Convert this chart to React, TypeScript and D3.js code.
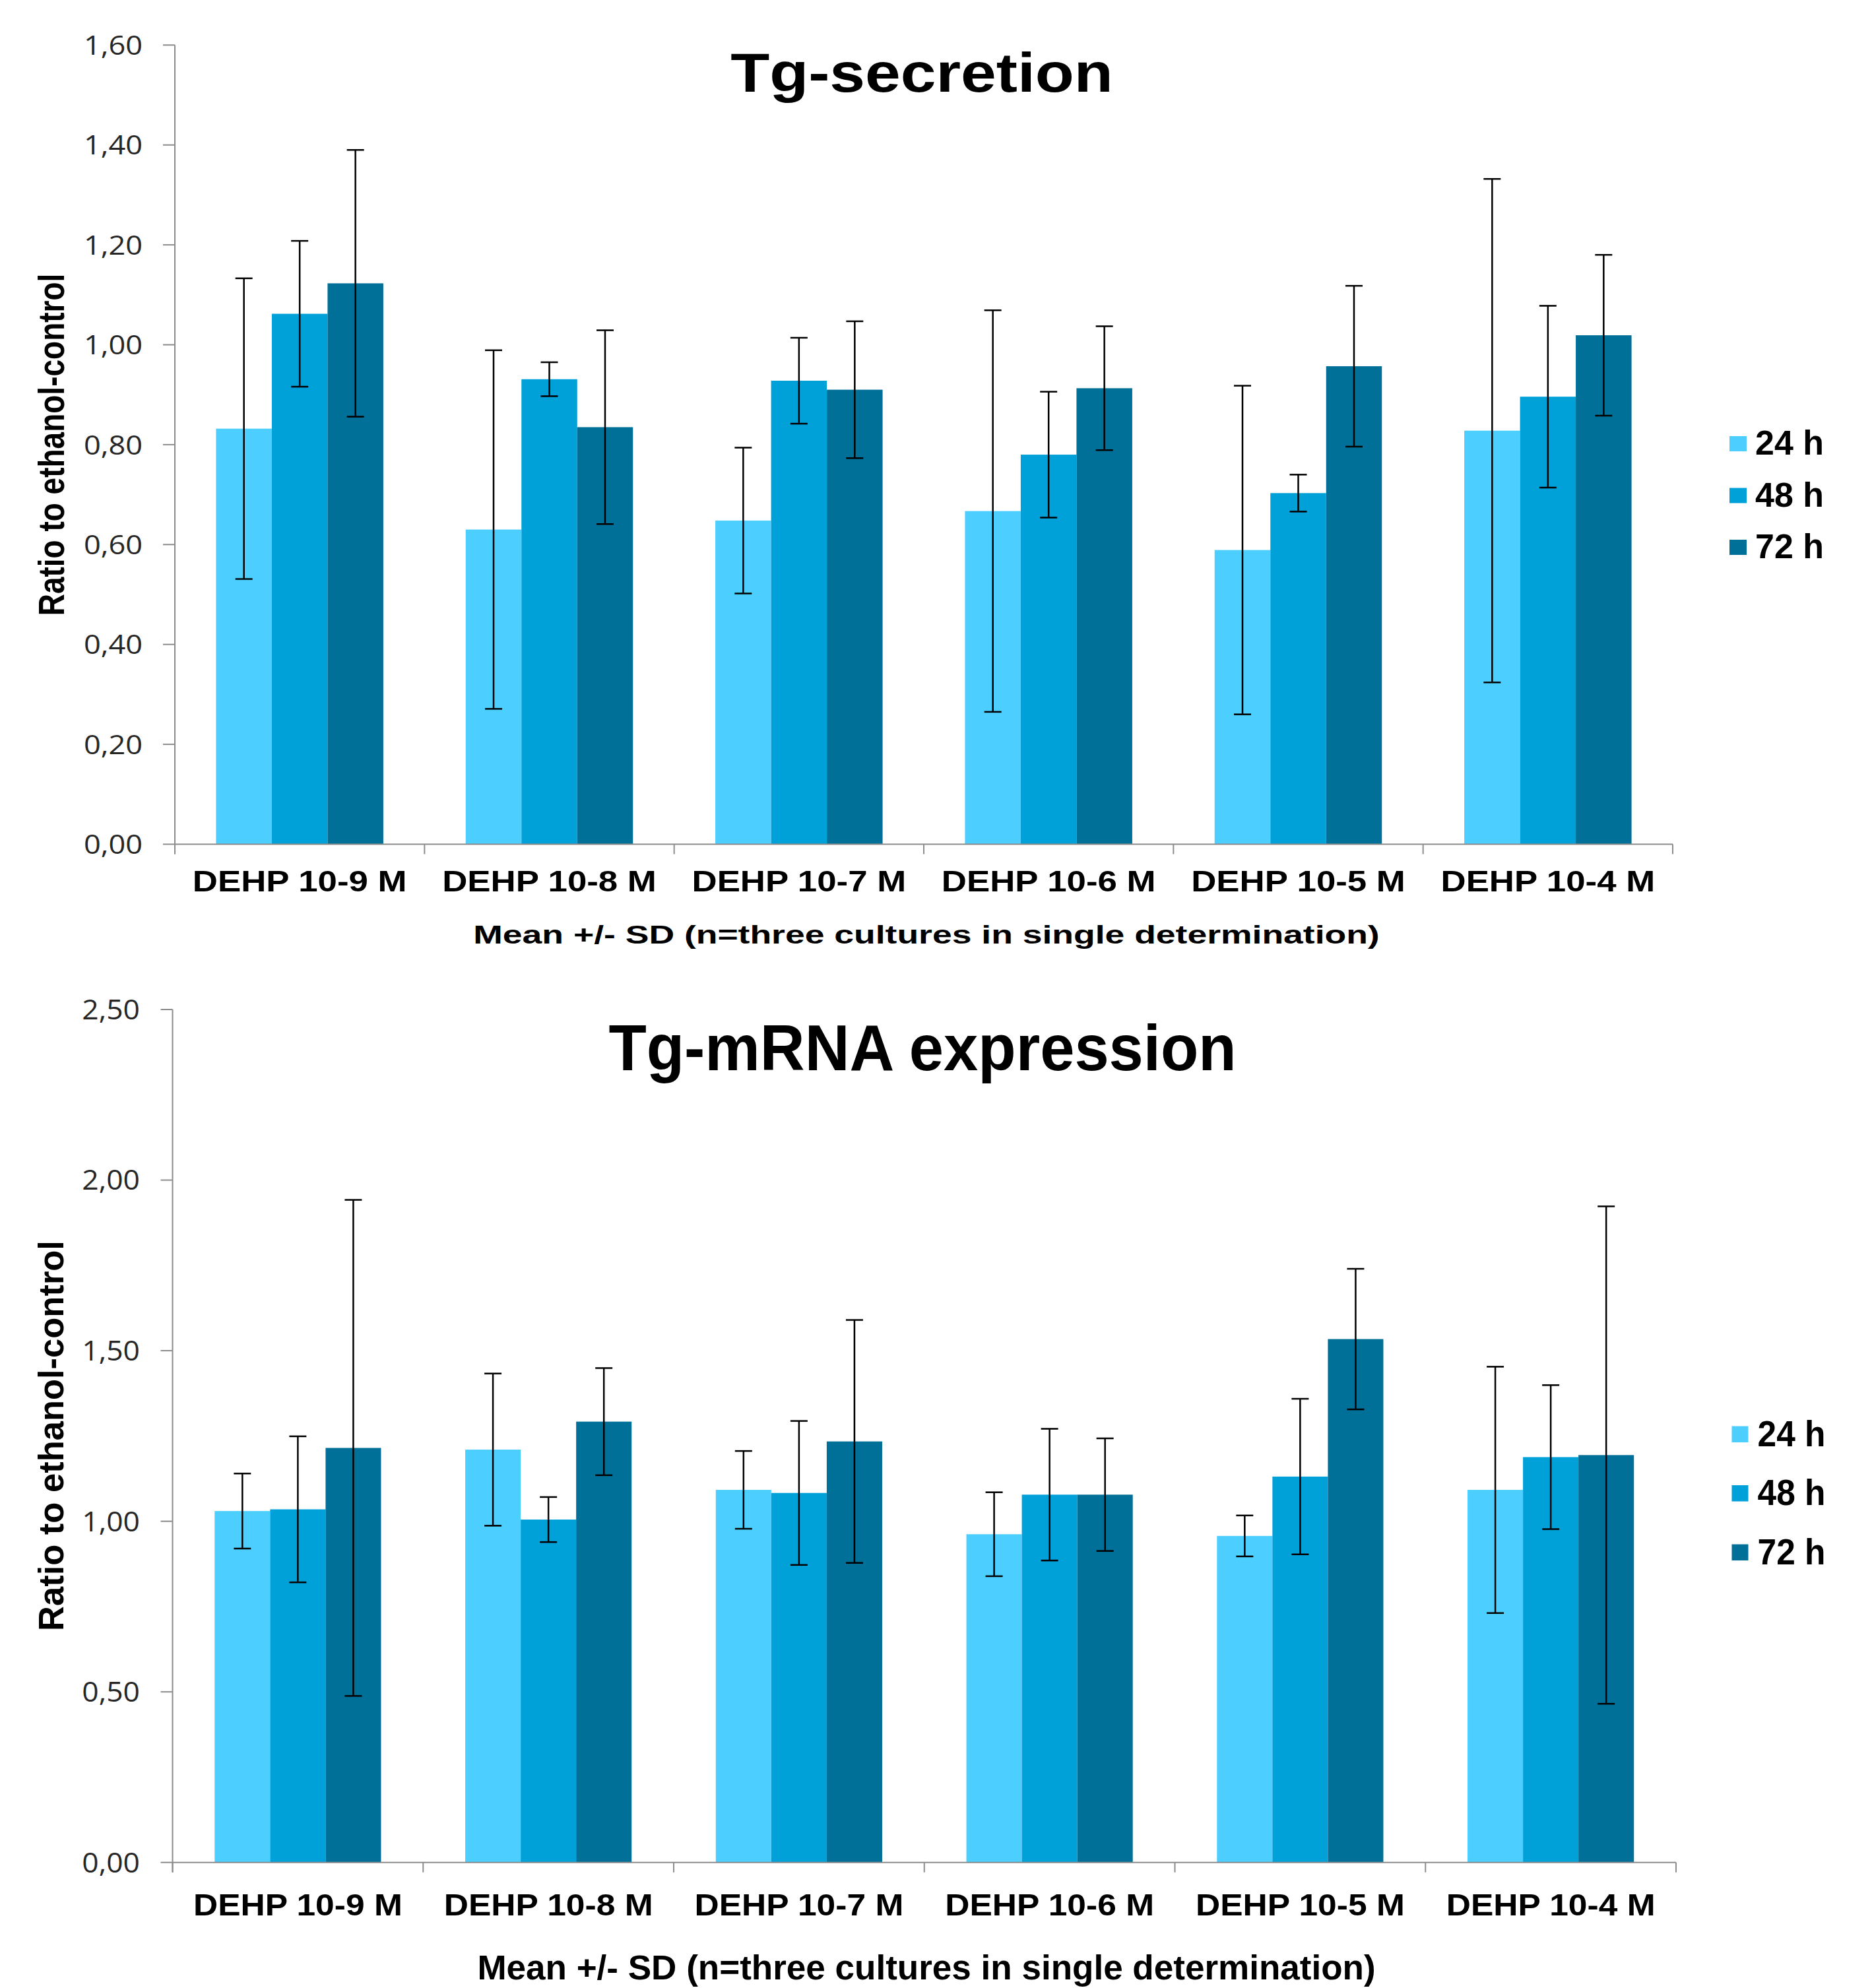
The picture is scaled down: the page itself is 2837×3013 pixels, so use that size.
import React from "react";
import * as d3 from "d3";

const categories = ["DEHP 10-9 M", "DEHP 10-8 M", "DEHP 10-7 M", "DEHP 10-6 M", "DEHP 10-5 M", "DEHP 10-4 M"];
const seriesNames = ["24 h", "48 h", "72 h"];
const seriesColors = ["#4ccfff", "#00a0d9", "#007098"];

// Tg-secretion: means and SD per series
const secr24 = [0.832, 0.63, 0.648, 0.667, 0.589, 0.828];
const secr48 = [1.062, 0.931, 0.928, 0.78, 0.703, 0.896];
const secr72 = [1.123, 0.835, 0.91, 0.913, 0.957, 1.019];
const secr24Sd = [0.301, 0.359, 0.146, 0.402, 0.329, 0.504];
const secr48Sd = [0.146, 0.034, 0.086, 0.126, 0.037, 0.182];
const secr72Sd = [0.267, 0.194, 0.137, 0.124, 0.161, 0.161];
const secrTicks = [0, 0.2, 0.4, 0.6, 0.8, 1.0, 1.2, 1.4, 1.6];

// Tg-mRNA expression: means and SD per series
const mrna24 = [1.03, 1.21, 1.092, 0.962, 0.957, 1.092];
const mrna48 = [1.035, 1.005, 1.083, 1.078, 1.131, 1.188];
const mrna72 = [1.215, 1.292, 1.234, 1.078, 1.534, 1.194];
const mrna24Sd = [0.11, 0.223, 0.114, 0.123, 0.06, 0.361];
const mrna48Sd = [0.214, 0.066, 0.211, 0.193, 0.228, 0.211];
const mrna72Sd = [0.727, 0.157, 0.356, 0.165, 0.206, 0.729];
const mrnaTicks = [0, 0.5, 1.0, 1.5, 2.0, 2.5];

const yTitle = "Ratio to ethanol-control";
const xTitle = "Mean +/- SD (n=three cultures in single determination)";

const ARIAL = "'Liberation Sans', Arial, sans-serif";
const CALIBRI = "'Open Sans', 'Noto Sans', sans-serif";

function T({ x, y, sx = 1, rot = 0, size, weight = "bold", family = ARIAL, anchor = "middle", fill = "#000", dy = "0", children }: any) {
  return (
    <text
      transform={`translate(${x},${y}) scale(${sx},1)${rot ? ` rotate(${rot})` : ""}`}
      fontSize={size}
      fontWeight={weight}
      fontFamily={family}
      textAnchor={anchor}
      fill={fill}
      dy={dy}
    >
      {children}
    </text>
  );
}

function Panel({ cfg }: any) {
  const { means, sds, ticks, x0, x1, y0, y1, maxV } = cfg;
  const xb = d3.scaleBand<string>().domain(categories).range([x0, x1]).paddingInner(0).paddingOuter(0);
  const inner = d3
    .scaleBand<string>()
    .domain(seriesNames)
    .range([xb.bandwidth() * cfg.gap / 2, xb.bandwidth() * (1 - cfg.gap / 2)]);
  const y = d3.scaleLinear().domain([0, maxV]).range([y0, y1]);
  const fmt = (v: number) => d3.format(".2f")(v).replace(".", ",");
  const boundaries = categories.map((c) => xb(c) as number).concat([x1]);
  return (
    <g>
      {categories.map((c, i) => (
        <g key={c}>
          {seriesNames.map((s, j) => {
            const bx = (xb(c) as number) + (inner(s) as number);
            const v = means[j][i];
            return (
              <rect key={s} x={bx} y={y(v)} width={inner.bandwidth()} height={y(0) - y(v)} fill={seriesColors[j]} />
            );
          })}
        </g>
      ))}
      <line x1={x0} x2={x0} y1={y(maxV)} y2={y(0) + 15} stroke="#8c8c8c" strokeWidth={2} />
      <line x1={x0} x2={x1} y1={y(0)} y2={y(0)} stroke="#8c8c8c" strokeWidth={2} />
      {ticks.map((t: number) => (
        <g key={t}>
          <line x1={x0 - 18} x2={x0} y1={y(t)} y2={y(t)} stroke="#8c8c8c" strokeWidth={2} />
          <T x={cfg.tickRight} y={y(t)} sx={cfg.tickSx} size={cfg.tickSize} weight="normal" family={CALIBRI} anchor="end" fill="#262626" dy="0.36em">
            {fmt(t)}
          </T>
        </g>
      ))}
      {boundaries.map((bx, i) => (
        <line key={i} x1={bx} x2={bx} y1={y(0)} y2={y(0) + 15} stroke="#8c8c8c" strokeWidth={2} />
      ))}
      {categories.map((c, i) => (
        <g key={"e" + c}>
          {seriesNames.map((s, j) => {
            const cx = (xb(c) as number) + (inner(s) as number) + inner.bandwidth() / 2;
            const v = means[j][i];
            const sd = sds[j][i];
            return (
              <g key={s} stroke="#000" strokeWidth={2.5}>
                <line x1={cx} x2={cx} y1={y(v + sd)} y2={y(v - sd)} />
                <line x1={cx - 13} x2={cx + 13} y1={y(v + sd)} y2={y(v + sd)} />
                <line x1={cx - 13} x2={cx + 13} y1={y(v - sd)} y2={y(v - sd)} />
              </g>
            );
          })}
        </g>
      ))}
      {categories.map((c) => (
        <T key={"l" + c} x={(xb(c) as number) + xb.bandwidth() / 2} y={cfg.catY} sx={cfg.catSx} size={cfg.catSize}>
          {c}
        </T>
      ))}
      <T x={cfg.xtX} y={cfg.xtY} sx={cfg.xtSx} size={cfg.xtSize}>
        {xTitle}
      </T>
      <T x={cfg.ytX} y={cfg.ytY} sx={cfg.ytSx} rot={-90} size={cfg.ytSize}>
        {yTitle}
      </T>
      <T x={cfg.titleX} y={cfg.titleY} sx={cfg.titleSx} size={cfg.titleSize}>
        {cfg.title}
      </T>
      {seriesNames.map((s, j) => (
        <g key={"lg" + s}>
          <rect x={cfg.legX} y={cfg.legY + j * cfg.legStep} width={cfg.legW} height={cfg.legH} fill={seriesColors[j]} />
          <T x={cfg.legX + 39} y={cfg.legY + j * cfg.legStep + cfg.legBase} sx={cfg.legSx} size={cfg.legSize} anchor="start">
            {s}
          </T>
        </g>
      ))}
    </g>
  );
}

const topCfg = {
  title: "Tg-secretion",
  means: [secr24, secr48, secr72],
  sds: [secr24Sd, secr48Sd, secr72Sd],
  ticks: secrTicks,
  maxV: 1.6,
  x0: 265,
  x1: 2535,
  y0: 1279.5,
  y1: 68.3,
  gap: 0.33,
  tickRight: 216,
  tickSize: 41,
  tickSx: 1.1,
  catY: 1351,
  catSize: 44,
  catSx: 1.2,
  xtX: 1404,
  xtY: 1430,
  xtSize: 39.5,
  xtSx: 1.355,
  ytX: 97,
  ytY: 674,
  ytSize: 46,
  ytSx: 1.2,
  titleX: 1397,
  titleY: 138.5,
  titleSize: 84,
  titleSx: 1.15,
  legX: 2621,
  legY: 661,
  legStep: 78.5,
  legW: 26,
  legH: 23,
  legBase: 28,
  legSize: 51,
  legSx: 1.02,
};

const botCfg = {
  title: "Tg-mRNA expression",
  means: [mrna24, mrna48, mrna72],
  sds: [mrna24Sd, mrna48Sd, mrna72Sd],
  ticks: mrnaTicks,
  maxV: 2.5,
  x0: 261.5,
  x1: 2540,
  y0: 2822.7,
  y1: 1530,
  gap: 0.336,
  tickRight: 212,
  tickSize: 41.5,
  tickSx: 1.07,
  catY: 2902.5,
  catSize: 45.6,
  catSx: 1.13,
  xtX: 1404,
  xtY: 3000.3,
  xtSize: 51,
  xtSx: 1.04,
  ytX: 95.7,
  ytY: 2176,
  ytSize: 52.5,
  ytSx: 1.03,
  titleX: 1398,
  titleY: 1621.7,
  titleSize: 97.8,
  titleSx: 0.96,
  legX: 2624.5,
  legY: 2161.5,
  legStep: 89.5,
  legW: 25,
  legH: 24.5,
  legBase: 30,
  legSize: 56,
  legSx: 0.92,
};

export default function App() {
  return (
    <svg
      width={2837}
      height={3013}
      viewBox="0 0 2837 3013"
      style={{ position: "absolute", left: 0, top: 0, background: "#fff" }}
    >
      <rect x={0} y={0} width={2837} height={3013} fill="#fff" />
      <Panel cfg={topCfg} />
      <Panel cfg={botCfg} />
    </svg>
  );
}
